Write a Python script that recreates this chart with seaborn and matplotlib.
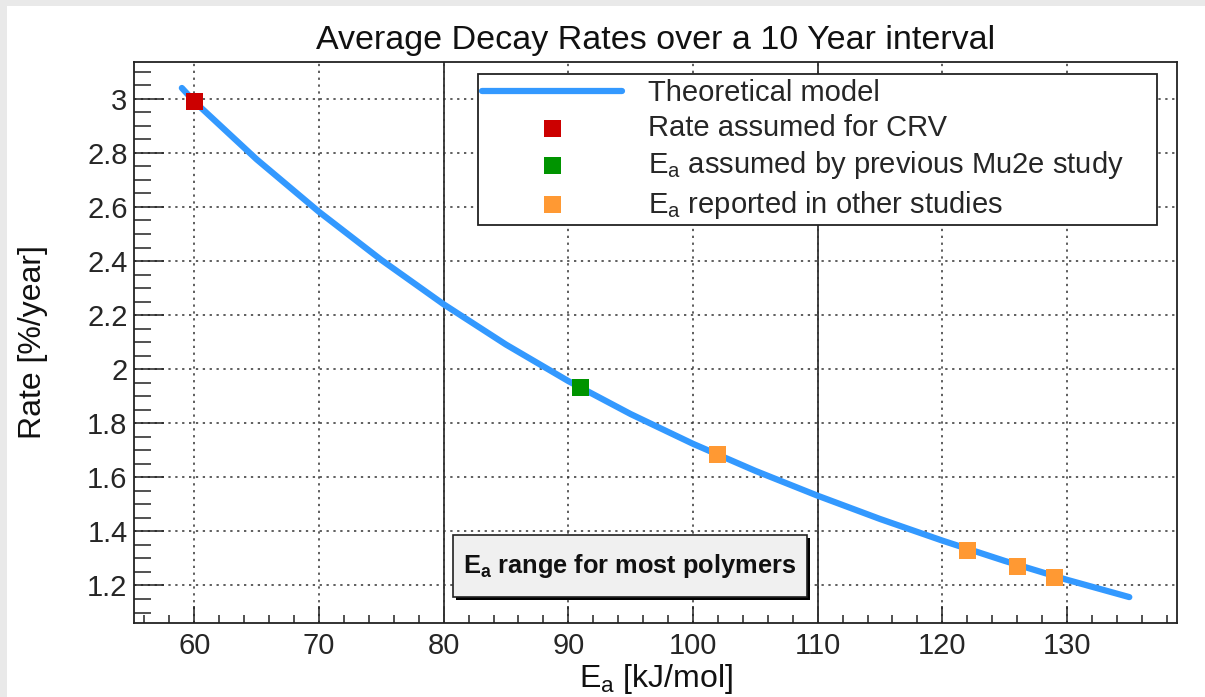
import matplotlib
matplotlib.use("Agg")
import matplotlib.pyplot as plt
import matplotlib.patheffects as pe
from matplotlib.patches import Rectangle
from matplotlib.ticker import MultipleLocator
import seaborn as sns

# ---------------- data ----------------
ea_curve = [59, 60, 65, 70, 75, 80, 85, 90, 95, 100, 105, 110, 115, 120, 125, 130, 135]
rate_curve = [3.04, 2.99, 2.776, 2.582, 2.404, 2.240, 2.091, 1.956, 1.834, 1.724, 1.624,
              1.532, 1.446, 1.366, 1.291, 1.221, 1.157]

crv_ea = [60]
crv_rate = [2.99]
mu2e_ea = [91]
mu2e_rate = [1.932]
other_ea = [102, 122, 126, 129]
other_rate = [1.683, 1.330, 1.272, 1.231]

polymer_range = [80, 110]

x_ticks = [60, 70, 80, 90, 100, 110, 120, 130]
y_ticks = [1.2, 1.4, 1.6, 1.8, 2.0, 2.2, 2.4, 2.6, 2.8, 3.0]
y_tick_labels = ["1.2", "1.4", "1.6", "1.8", "2", "2.2", "2.4", "2.6", "2.8", "3"]

labels = ["Theoretical model", "Rate assumed for CRV",
          r"$\mathregular{E_a}$ assumed by previous Mu2e study",
          r"$\mathregular{E_a}$ reported in other studies"]

# ---------------- style ----------------
sns.set_theme(style="ticks")
plt.rcParams["font.family"] = ["Liberation Sans", "DejaVu Sans"]
plt.rcParams["mathtext.fontset"] = "custom"
plt.rcParams["mathtext.rm"] = "Liberation Sans"
plt.rcParams["mathtext.it"] = "Liberation Sans:italic"
plt.rcParams["mathtext.bf"] = "Liberation Sans:bold"
plt.rcParams["mathtext.default"] = "regular"

fig = plt.figure(figsize=(12.05, 6.97), dpi=100)
fig.patch.set_facecolor("white")
ax = fig.add_axes([0.1116, 0.1057, 0.8649, 0.8057])
ax.set_facecolor("white")

# screenshot border
fig.add_artist(Rectangle((0, 1 - 6 / 697), 1, 6 / 697, transform=fig.transFigure,
                         fc="#e9e9e9", ec="none", zorder=-10))
fig.add_artist(Rectangle((0, 0), 7 / 1205, 1, transform=fig.transFigure,
                         fc="#e9e9e9", ec="none", zorder=-10))

# curve and markers
sns.lineplot(x=ea_curve, y=rate_curve, ax=ax, color="#3399ff", lw=4.5,
             label=labels[0], sort=False, estimator=None, zorder=3)
sns.scatterplot(x=crv_ea, y=crv_rate, ax=ax, marker="s", s=150, color="#cc0000",
                edgecolor="none", linewidth=0, label=labels[1], zorder=5)
sns.scatterplot(x=mu2e_ea, y=mu2e_rate, ax=ax, marker="s", s=150, color="#009400",
                edgecolor="none", linewidth=0, label=labels[2], zorder=5)
sns.scatterplot(x=other_ea, y=other_rate, ax=ax, marker="s", s=150, color="#ff9933",
                edgecolor="none", linewidth=0, label=labels[3], zorder=5)

for xv in polymer_range:
    ax.axvline(xv, color="#333333", lw=1.3, zorder=2)

# axes ranges and ticks
ax.set_xlim(55.2, 138.8)
ax.set_ylim(1.06, 3.137)
ax.set_xticks(x_ticks)
ax.set_yticks(y_ticks)
ax.set_yticklabels(y_tick_labels)
ax.xaxis.set_minor_locator(MultipleLocator(2))
ax.yaxis.set_minor_locator(MultipleLocator(0.05))
ax.tick_params(axis="y", which="major", direction="in", length=21.6, width=1.1,
               left=True, right=False, labelsize=21, pad=5, color="#222222")
ax.tick_params(axis="y", which="minor", direction="in", length=12, width=1.1,
               left=True, right=False, color="#222222")
ax.tick_params(axis="x", which="major", direction="in", length=12, width=1.1,
               bottom=True, top=False, labelsize=21, pad=6, color="#222222")
ax.tick_params(axis="x", which="minor", direction="in", length=6, width=1.1,
               bottom=True, top=False, color="#222222")

ax.grid(True, which="major", linestyle=(0, (1.5, 3)), color="#333333", lw=1.1, zorder=1)
for sp in ax.spines.values():
    sp.set_visible(True)
    sp.set_color("#222222")
    sp.set_linewidth(1.3)

ax.set_title("Average Decay Rates over a 10 Year interval", fontsize=24.5, pad=9,
             color="#111111")
ax.set_xlabel(r"$\mathregular{E_a}$ [kJ/mol]", fontsize=23, labelpad=2, color="#111111")
ax.set_ylabel("Rate [%/year]", fontsize=23, labelpad=28, color="#111111")

# legend
handles, labs = ax.get_legend_handles_labels()
leg = ax.legend(handles, labs, loc="upper left",
                bbox_to_anchor=(0.3293, 0.7146, 0.6518, 0.263), mode="expand",
                fontsize=21, frameon=True, fancybox=False, shadow=False,
                borderpad=0.15, labelspacing=0.25, handlelength=4.8,
                handletextpad=0.9, borderaxespad=0, scatterpoints=1)
leg.get_frame().set_edgecolor("#222222")
leg.get_frame().set_linewidth(1.3)
leg.get_frame().set_facecolor("white")
leg.get_frame().set_alpha(1)

# annotation box with shadow
box = Rectangle((0.3053, 0.0474), 0.3397, 0.1099, transform=ax.transAxes,
                fc="#f0f0f0", ec="#222222", lw=1.2, zorder=6)
box.set_path_effects([
    pe.SimplePatchShadow(offset=(2.3, -2.3), shadow_rgbFace="black", alpha=1),
    pe.Normal()])
ax.add_patch(box)
ax.text(0.3053 + 0.3397 / 2, 0.0474 + 0.1099 / 2, r"$\mathbf{E_a}$ range for most polymers",
        transform=ax.transAxes, ha="center", va="center", fontsize=18.3,
        fontweight="bold", color="#111111", zorder=7)

fig.savefig("out.png", dpi=100)
